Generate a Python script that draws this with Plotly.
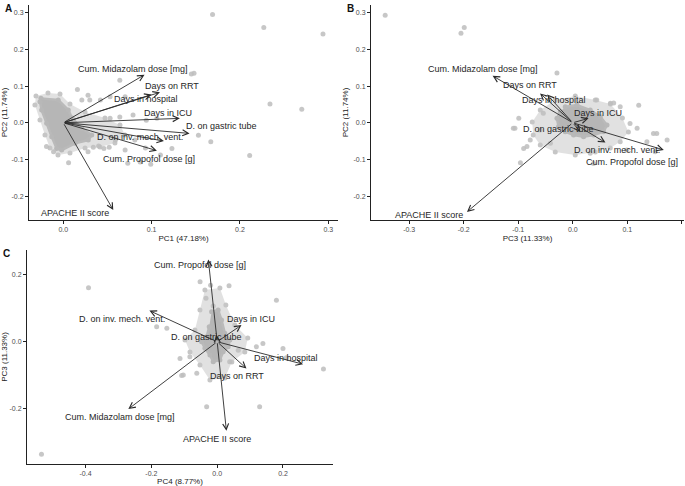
import plotly.graph_objects as go

W, H = 685, 486

variables = ["Cum. Midazolam dose [mg]", "Days on RRT", "Days in hospital", "Days in ICU",
             "D. on gastric tube", "D. on inv. mech. vent.", "Cum. Propofol dose [g]", "APACHE II score"]

# ---- Panel A: PC1 vs PC2 loadings (arrow tips) and label positions
a_pc1 = [0.092, 0.1095, 0.100, 0.132, 0.143, 0.114, 0.106, 0.0566]
a_pc2 = [0.131, 0.083, 0.077, 0.012, -0.029, -0.050, -0.076, -0.238]
a_lab_x = [0.079, 0.123, 0.094, 0.119, 0.179, 0.087, 0.097, 0.013]
a_lab_y = [0.146, 0.100, 0.064, 0.027, -0.008, -0.040, -0.100, -0.247]

# ---- Panel B: PC3 vs PC2
b_pc3 = [-0.147, -0.060, -0.047, 0.029, 0.014, 0.060, 0.167, -0.194]
b_pc2 = [0.128, 0.080, 0.077, 0.012, -0.025, -0.054, -0.074, -0.243]
b_lab_x = [-0.164, -0.079, -0.035, 0.047, -0.026, 0.081, 0.109, -0.263]
b_lab_y = [0.146, 0.103, 0.062, 0.028, -0.017, -0.074, -0.106, -0.250]

# ---- Panel C: PC4 vs PC3
c_pc4 = [-0.270, 0.089, 0.261, 0.074, -0.002, -0.206, -0.027, 0.028]
c_pc3 = [-0.201, -0.080, -0.067, 0.050, 0.020, 0.093, 0.246, -0.266]
c_lab_x = [-0.295, 0.061, 0.208, 0.104, -0.032, -0.290, -0.052, 0.000]
c_lab_y = [-0.224, -0.102, -0.047, 0.068, 0.013, 0.068, 0.229, -0.290]

# ---- Scores: outlines of the grey clouds (halo = sparse edge, core = solid) and individual points
a_halo_x = [-0.0309, -0.0173, -0.0037, 0.0076, 0.0246, 0.0472, 0.0642, 0.0699, 0.0585, 0.0416,
            0.0246, 0.0076, -0.0060, -0.0151, -0.0207, -0.0264, -0.0321]
a_halo_y = [0.0728, 0.0809, 0.0782, 0.0510, 0.0292, 0.0128, -0.0063, -0.0335, -0.0553, -0.0662,
            -0.0689, -0.0826, -0.0880, -0.0689, -0.0335, 0.0074, 0.0482]
a_core_x = [-0.0253, -0.0057, 0.0057, 0.0099, 0.0208, 0.0322, 0.0283, 0.0133, -0.0018, -0.0075,
            -0.0131, -0.0188, -0.0245, -0.0264]
a_core_y = [0.0665, 0.0619, 0.0346, 0.0128, -0.0153, -0.0335, -0.0471, -0.0561, -0.0744, -0.0698,
            -0.0381, -0.0016, 0.0346, 0.0572]
a_pts_x = [0.169, 0.227, 0.294, 0.234, 0.270, 0.211, 0.167, 0.153, 0.148, 0.145, 0.123, 0.099,
           0.006, 0.016, 0.030, 0.064, 0.070, 0.053, 0.034, 0.040, 0.046, 0.052, 0.028, 0.059,
           0.070, 0.081, 0.093, 0.110, 0.073, 0.087, 0.028, 0.042, 0.053, 0.021, 0.064, 0.079,
           0.094, 0.106, -0.019, -0.011]
a_pts_y = [0.295, 0.260, 0.242, 0.051, 0.037, -0.089, -0.052, -0.034, 0.135, 0.133, -0.070, -0.113,
           -0.109, 0.091, 0.062, 0.116, 0.071, 0.012, -0.067, -0.063, -0.070, -0.067, -0.079, -0.047,
           -0.074, -0.047, -0.069, -0.088, -0.110, -0.107, 0.075, 0.062, 0.071, 0.062, 0.016, 0.021,
           0.007, 0.012, -0.065, -0.079]

b_halo_x = [-0.0596, -0.0321, 0.0046, 0.0413, 0.0690, 0.0910, 0.1020, 0.0870, 0.0688, 0.0413,
            0.0046, -0.0321, -0.0596, -0.0725, -0.0743]
b_halo_y = [0.0346, 0.0619, 0.0728, 0.0620, 0.0510, 0.0128, -0.0253, -0.0520, -0.0689, -0.0798,
            -0.0880, -0.0798, -0.0608, -0.0335, 0.0019]
b_core_x = [-0.0138, 0.0077, 0.0321, 0.0505, 0.0628, 0.0565, 0.0382, 0.0198, 0.0015, -0.0138,
            -0.0261, -0.0290, -0.0229]
b_core_y = [0.0436, 0.0482, 0.0346, 0.0163, -0.0063, -0.0245, -0.0335, -0.0381, -0.0335, -0.0245,
            -0.0109, 0.0120, 0.0300]
b_pts_x = [-0.344, -0.199, -0.205, -0.029, -0.099, -0.106, -0.096, 0.121, 0.148, 0.173, 0.038,
           -0.084, 0.075, 0.044, -0.109, -0.078, -0.090, 0.154, 0.151, 0.118, 0.105, 0.087, 0.069,
           0.136, 0.099, 0.032, -0.041, -0.060, -0.054]
b_pts_y = [0.293, 0.260, 0.244, 0.136, 0.012, -0.015, -0.109, 0.048, -0.029, -0.047, -0.111,
           -0.065, 0.054, 0.062, -0.015, -0.047, -0.070, -0.029, -0.079, -0.015, -0.002, 0.044, 0.053,
           -0.052, -0.074, -0.083, -0.056, -0.020, 0.026]

c_halo_x = [-0.0373, 0.0082, 0.0264, 0.0536, 0.0930, 0.0839, 0.0445, 0.0233, -0.0221, -0.0524,
            -0.0827, -0.0979, -0.0676, -0.0524]
c_halo_y = [0.1543, 0.1603, 0.1096, 0.0499, 0.0110, -0.0307, -0.0606, -0.1084, -0.1143, -0.0696,
            -0.0307, 0.0051, 0.0349, 0.0946]
c_core_x = [-0.017, 0.003, 0.0133, 0.0233, 0.0385, 0.0333, 0.0182, 0.0082, -0.0121, -0.0221,
            -0.0373, -0.0473, -0.0321, -0.0242]
c_core_y = [0.0896, 0.0946, 0.0648, 0.0251, 0.0051, -0.0149, -0.0299, -0.0546, -0.0597, -0.0397,
            -0.0197, 0.0, 0.0149, 0.0448]
c_pts_x = [-0.391, -0.184, -0.108, -0.032, 0.129, 0.180, 0.323, 0.210, -0.534, -0.052, -0.020,
           0.036, -0.153, -0.083, -0.103, -0.062, 0.038, 0.064, 0.119, 0.200, -0.034, -0.012,
           0.139, -0.113]
c_pts_y = [0.161, 0.045, -0.101, -0.194, -0.194, 0.124, -0.081, -0.048, -0.336, 0.179, 0.169,
           0.167, 0.040, -0.045, -0.099, -0.094, -0.060, -0.025, -0.015, -0.020, 0.130, 0.107,
           -0.005, -0.050]

x_titles = ["PC1 (47.18%)", "PC3 (11.33%)", "PC4 (8.77%)"]
y_titles = ["PC2 (11.74%)", "PC2 (11.74%)", "PC3 (11.33%)"]
panel_tags = ["A", "B", "C"]

# layout in pixels: (left, right, top, bottom) of each plotting area
boxes = [(29, 338, 5, 220), (371, 684, 5, 220), (27, 333, 250, 464)]
xranges = [[-0.0388, 0.311], [-0.370, 0.204], [-0.578, 0.352]]
yranges = [[-0.265, 0.321], [-0.265, 0.321], [-0.365, 0.274]]
xticks = [[0.0, 0.1, 0.2, 0.3], [-0.3, -0.2, -0.1, 0.0, 0.1, 0.2], [-0.4, -0.2, 0.0, 0.2]]
yticks = [[-0.2, -0.1, 0.0, 0.1, 0.2, 0.3], [-0.2, -0.1, 0.0, 0.1, 0.2, 0.3], [-0.2, 0.0, 0.2]]

panels = [
    (a_pc1, a_pc2, a_lab_x, a_lab_y, a_halo_x, a_halo_y, a_core_x, a_core_y, a_pts_x, a_pts_y),
    (b_pc3, b_pc2, b_lab_x, b_lab_y, b_halo_x, b_halo_y, b_core_x, b_core_y, b_pts_x, b_pts_y),
    (c_pc4, c_pc3, c_lab_x, c_lab_y, c_halo_x, c_halo_y, c_core_x, c_core_y, c_pts_x, c_pts_y),
]

FONT = "Liberation Sans, Arial, sans-serif"
fig = go.Figure()
annotations = []
layout = {}

for i, (ax_, ay_, lx, ly, hx, hy, cx, cy, px, py) in enumerate(panels):
    sfx = "" if i == 0 else str(i + 1)
    xr, yr = "x" + sfx, "y" + sfx
    fig.add_trace(go.Scatter(x=hx, y=hy, xaxis=xr, yaxis=yr, mode="lines+markers", fill="toself",
                             fillcolor="rgba(195,195,195,0.5)", line=dict(width=0),
                             marker=dict(size=5, color="#c6c6c6", line=dict(width=0)),
                             hoverinfo="skip", showlegend=False))
    fig.add_trace(go.Scatter(x=cx, y=cy, xaxis=xr, yaxis=yr, mode="lines+markers", fill="toself",
                             fillcolor="#b6b6b6", line=dict(width=2.5, color="#bababa"),
                             marker=dict(size=5, color="#b8b8b8", line=dict(width=0)),
                             hoverinfo="skip", showlegend=False))
    fig.add_trace(go.Scatter(x=px, y=py, xaxis=xr, yaxis=yr, mode="markers",
                             marker=dict(size=5, color="#bdbdbd", opacity=0.85, line=dict(width=0)),
                             hoverinfo="skip", showlegend=False))
    l, r, t, b = boxes[i]
    common = dict(showgrid=False, zeroline=False, showline=True, linecolor="#222", linewidth=1,
                  ticks="outside", ticklen=3, tickcolor="#222", tickwidth=0.8, automargin=False,
                  tickfont=dict(size=7, color="#4d4d4d", family=FONT))
    layout["xaxis" + sfx] = dict(
        domain=[l / W, r / W], range=xranges[i], anchor=yr, tickvals=xticks[i],
        ticktext=[f"{v:.1f}" for v in xticks[i]],
        title=dict(text=x_titles[i], font=dict(size=8, color="#222", family=FONT), standoff=2), **common)
    layout["yaxis" + sfx] = dict(
        domain=[1 - b / H, 1 - t / H], range=yranges[i], anchor=xr, tickvals=yticks[i],
        ticktext=[f"{v:.1f}" for v in yticks[i]],
        title=dict(text=y_titles[i], font=dict(size=8, color="#222", family=FONT), standoff=3), **common)
    for k in range(len(variables)):
        annotations.append(dict(x=ax_[k], y=ay_[k], ax=0, ay=0, xref=xr, yref=yr, axref=xr, ayref=yr,
                                text="", showarrow=True, arrowhead=5, arrowsize=1.3, arrowwidth=0.9,
                                arrowcolor="#2a2a2a", standoff=0, startstandoff=0))
        annotations.append(dict(x=lx[k], y=ly[k], xref=xr, yref=yr, text=variables[k], showarrow=False,
                                font=dict(size=9, color="#262626", family=FONT)))
    annotations.append(dict(x=(l - 26) / W, y=1 - (t + 3) / H,
                            xref="paper", yref="paper", text="<b>" + panel_tags[i] + "</b>",
                            showarrow=False, xanchor="left", yanchor="middle",
                            font=dict(size=10, color="#111", family=FONT)))

fig.update_layout(width=W, height=H, margin=dict(l=0, r=0, t=0, b=0),
                  paper_bgcolor="white", plot_bgcolor="white", annotations=annotations, **layout)
fig.write_html("out.html", config={"displayModeBar": False},
               post_script="document.body.style.margin='0px';")
